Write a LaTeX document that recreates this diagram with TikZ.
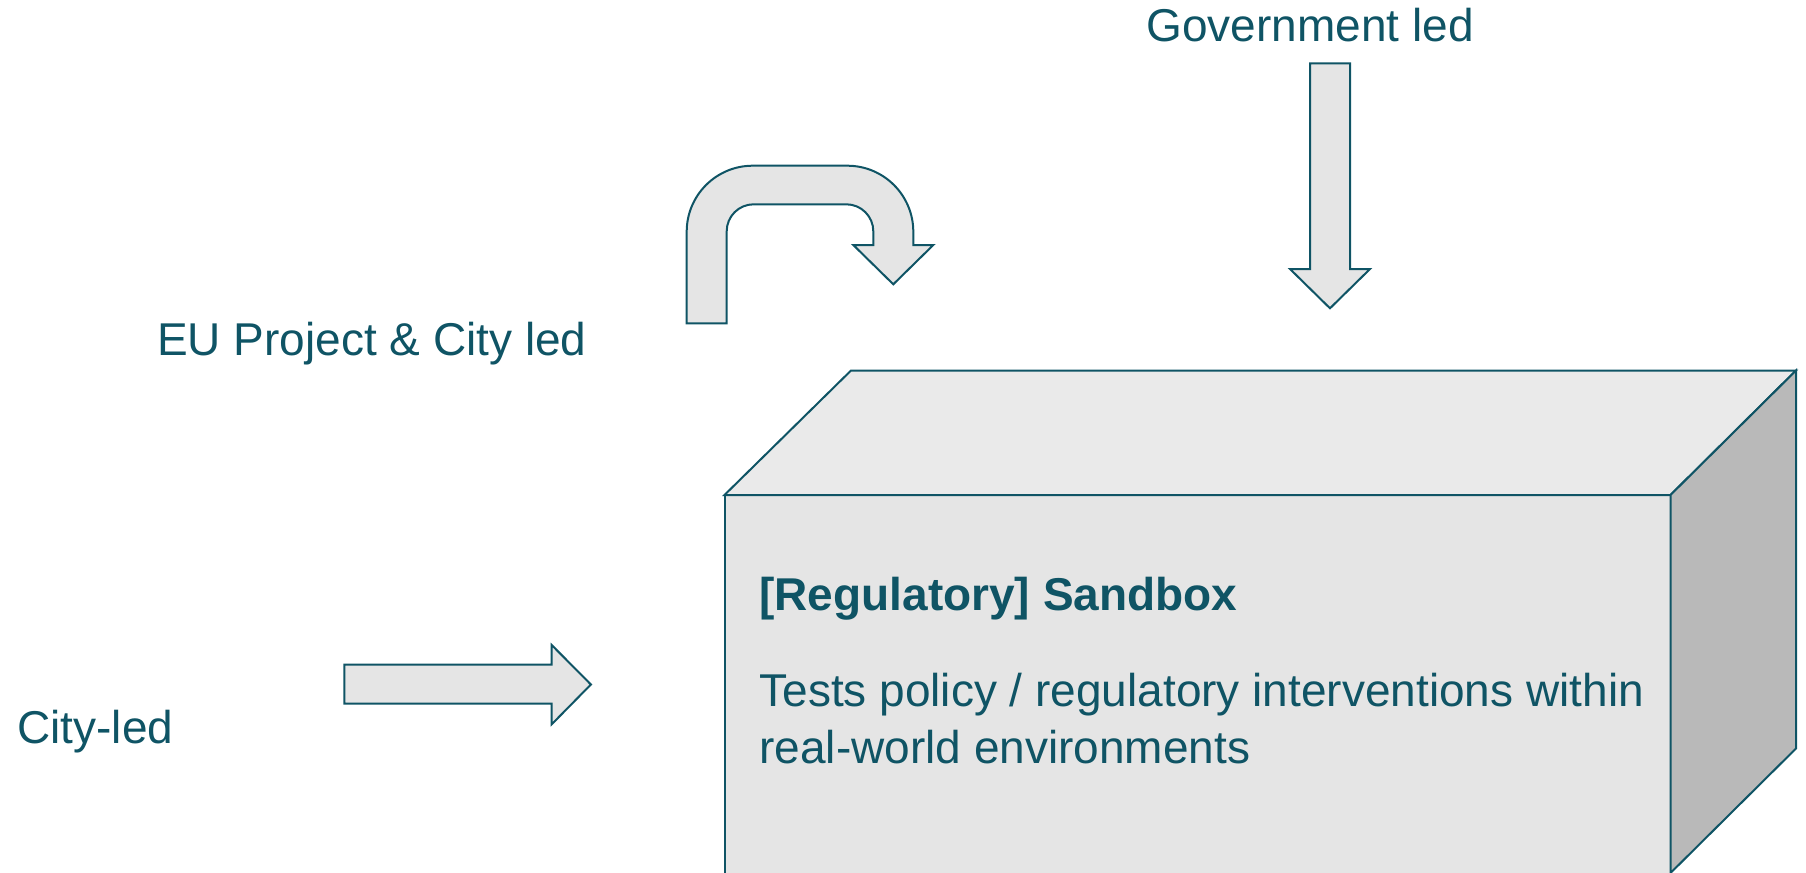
\documentclass[tikz,border=0pt]{standalone}
\usepackage{fontspec}
\setmainfont{Liberation Sans}
\usepackage{xcolor}
\usepackage{tikz}
\usetikzlibrary{positioning}

\definecolor{tealtxt}{HTML}{0F5465}
\definecolor{facefront}{HTML}{E5E5E5}
\definecolor{facetop}{HTML}{EAEAEA}
\definecolor{faceside}{HTML}{B9B9B9}

\begin{document}
\begin{tikzpicture}[x=0.5pt,y=-0.5pt, line cap=round, line join=miter,
		lbl/.style={inner sep=0pt, anchor=base west, text=tealtxt, font=\fontsize{23}{28.3}\selectfont},
		blockarrow/.style={draw=tealtxt, fill=facefront, line width=1pt},
		cubeface/.style={draw=tealtxt, line width=1pt}]
		\useasboundingbox (0,0) rectangle (1806,873);
		\clip (0,0) rectangle (1806,873);
		
		% ===== quader =====
		\draw[cubeface, fill=facefront] (724.5,495) rectangle (1670.5,890);
		\draw[cubeface, fill=facetop] (724.5,495) -- (851,370.5) -- (1796,370.5) -- (1670.5,495) -- cycle;
		\draw[cubeface, fill=faceside] (1670.5,495) -- (1796,370.5) -- (1796,748.5) -- (1670.5,873) -- cycle;
		
		% ===== texte im quader =====
		\node[lbl, font=\fontsize{23}{28.3}\selectfont\bfseries] (title) at (759,610) {[Regulatory] Sandbox};
		% base = letzte zeile
		\node[lbl, align=left] (desc) at (759,763.3) {Tests policy / regulatory interventions within\\real-world environments};
		
		% ===== beschriftungen =====
		\node[lbl] (gov) at (1146,41.7) {Government led};
		\node[lbl] (eu) at (156.6,355) {EU Project \& City led};
		\node[lbl] (city) at (17,743.3) {City-led};
		
		% ===== pfeil von oben =====
		\draw[blockarrow] (1310,63.3) -- (1350,63.3) -- (1350,269) -- (1370,269) -- (1330,308.3)
			-- (1290,269) -- (1310,269) -- cycle;
		
		% ===== pfeil von links =====
		\draw[blockarrow] (344.4,664.6) -- (551.7,664.6) -- (551.7,645) -- (590.9,684.5)
			-- (551.7,724.3) -- (551.7,703.7) -- (344.4,703.7) -- cycle;
		
		% ===== gebogener pfeil =====
		\draw[blockarrow] (686.7,323.3) -- (686.7,231.7)
			arc[start angle=180, end angle=270, radius=66] -- (847.3,165.7)
			arc[start angle=270, end angle=360, radius=66] -- (913.3,245) -- (933.3,245)
			-- (893.3,284.3) -- (853.3,245) -- (873.3,245) -- (873.3,231.3)
			arc[start angle=0, end angle=-90, radius=27] -- (753.7,204.3)
			arc[start angle=-90, end angle=-180, radius=27] -- (726.7,323.3) -- cycle;
	\end{tikzpicture}
\end{document}
